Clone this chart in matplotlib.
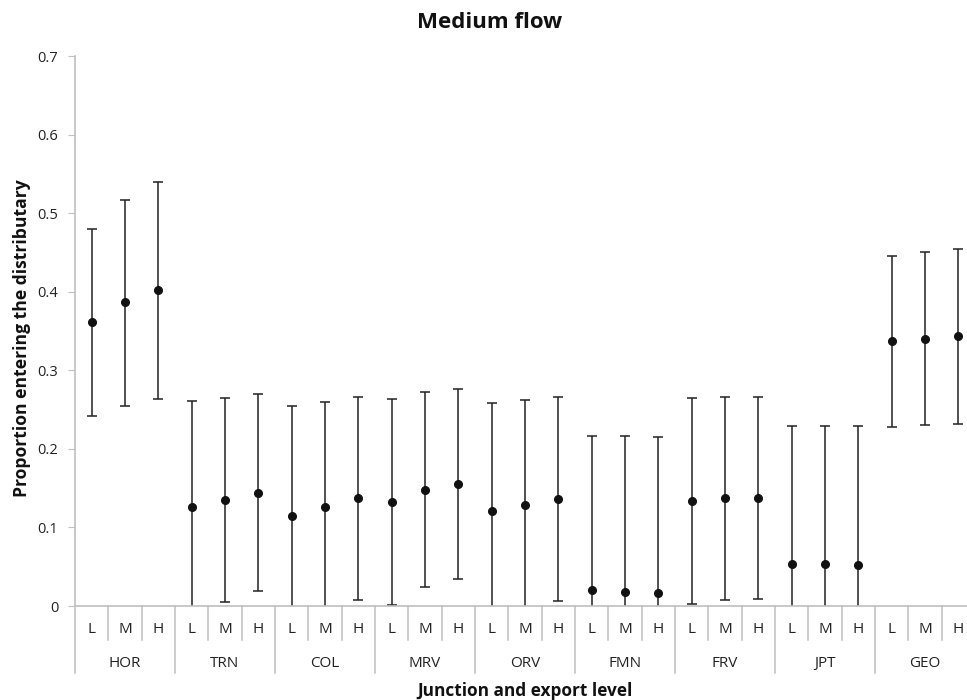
import matplotlib.pyplot as plt
import matplotlib.transforms as mtransforms
import numpy as np

plt.rcParams['font.family'] = ['Open Sans', 'DejaVu Sans']

junctions = ["HOR", "TRN", "COL", "MRV", "ORV", "FMN", "FRV", "JPT", "GEO"]
levels = ["L", "M", "H"]

# point estimates, upper and lower limits
means = [0.362, 0.387, 0.402,
         0.126, 0.135, 0.144,
         0.115, 0.126, 0.137,
         0.133, 0.148, 0.155,
         0.121, 0.129, 0.136,
         0.020, 0.018, 0.017,
         0.134, 0.137, 0.137,
         0.053, 0.054, 0.052,
         0.337, 0.340, 0.344]
upper = [0.480, 0.517, 0.540,
         0.261, 0.265, 0.270,
         0.255, 0.260, 0.266,
         0.264, 0.272, 0.276,
         0.259, 0.262, 0.266,
         0.216, 0.216, 0.215,
         0.265, 0.266, 0.266,
         0.229, 0.229, 0.229,
         0.446, 0.451, 0.455]
lower = [0.242, 0.255, 0.263,
         -0.009, 0.005, 0.019,
         -0.025, -0.008, 0.008,
         0.001, 0.024, 0.035,
         -0.017, -0.004, 0.006,
         -0.176, -0.180, -0.181,
         0.003, 0.008, 0.009,
         -0.123, -0.121, -0.125,
         0.228, 0.230, 0.232]

means = np.array(means)
yerr = np.vstack([means - np.array(lower), np.array(upper) - means])
x = np.arange(len(means))

fig = plt.figure(figsize=(9.67, 7), dpi=100)
ax = fig.add_axes([75 / 967, 1 - 606 / 700, 900 / 967, 550 / 700])

ax.errorbar(x, means, yerr=yerr, fmt='o', color='#111111', ecolor='#222222',
            elinewidth=1.1, capsize=3.5, capthick=1.1, markersize=5.5)

ax.set_xlim(-0.5, len(means) - 0.5)
ax.set_ylim(0, 0.7)
ax.set_yticks(np.arange(0, 0.71, 0.1))
ax.set_yticklabels(["0"] + ["%.1f" % v for v in np.arange(0.1, 0.71, 0.1)])
ax.tick_params(axis='y', length=5, color='#BFBFBF', labelsize=10.5, labelcolor='#222222', pad=7)
ax.set_xticks([])

for s in ['top', 'right']:
    ax.spines[s].set_visible(False)
for s in ['left', 'bottom']:
    ax.spines[s].set_color('#BFBFBF')
    ax.spines[s].set_linewidth(1.2)

# two level category axis drawn by hand
trans = mtransforms.blended_transform_factory(ax.transData, ax.transAxes)
for k in range(len(means) + 1):
    depth = -0.122 if k % 3 == 0 else -0.062
    ax.plot([k - 0.5, k - 0.5], [0, depth], transform=trans, color='#BFBFBF',
            lw=1.1, clip_on=False)
for i, j in enumerate(junctions):
    for n, lv in enumerate(levels):
        ax.text(3 * i + n, -0.042, lv, transform=trans, ha='center', va='center',
                fontsize=11, color='#222222')
    ax.text(3 * i + 1, -0.104, j, transform=trans, ha='center', va='center',
            fontsize=11, color='#222222')

fig.text(525 / 967, 1 - 691 / 700, "Junction and export level", ha='center', va='center',
         fontsize=12.4, fontweight='bold', color='#111111')
fig.text(22 / 967, 1 - 338 / 700, "Proportion entering the distributary", ha='center',
         va='center', rotation=90, fontsize=12.6, fontweight='bold', color='#111111')
fig.text(490 / 967, 1 - 22 / 700, "Medium flow", ha='center', va='center',
         fontsize=16, fontweight='bold', color='#111111')

fig.savefig("out.png", dpi=100)
